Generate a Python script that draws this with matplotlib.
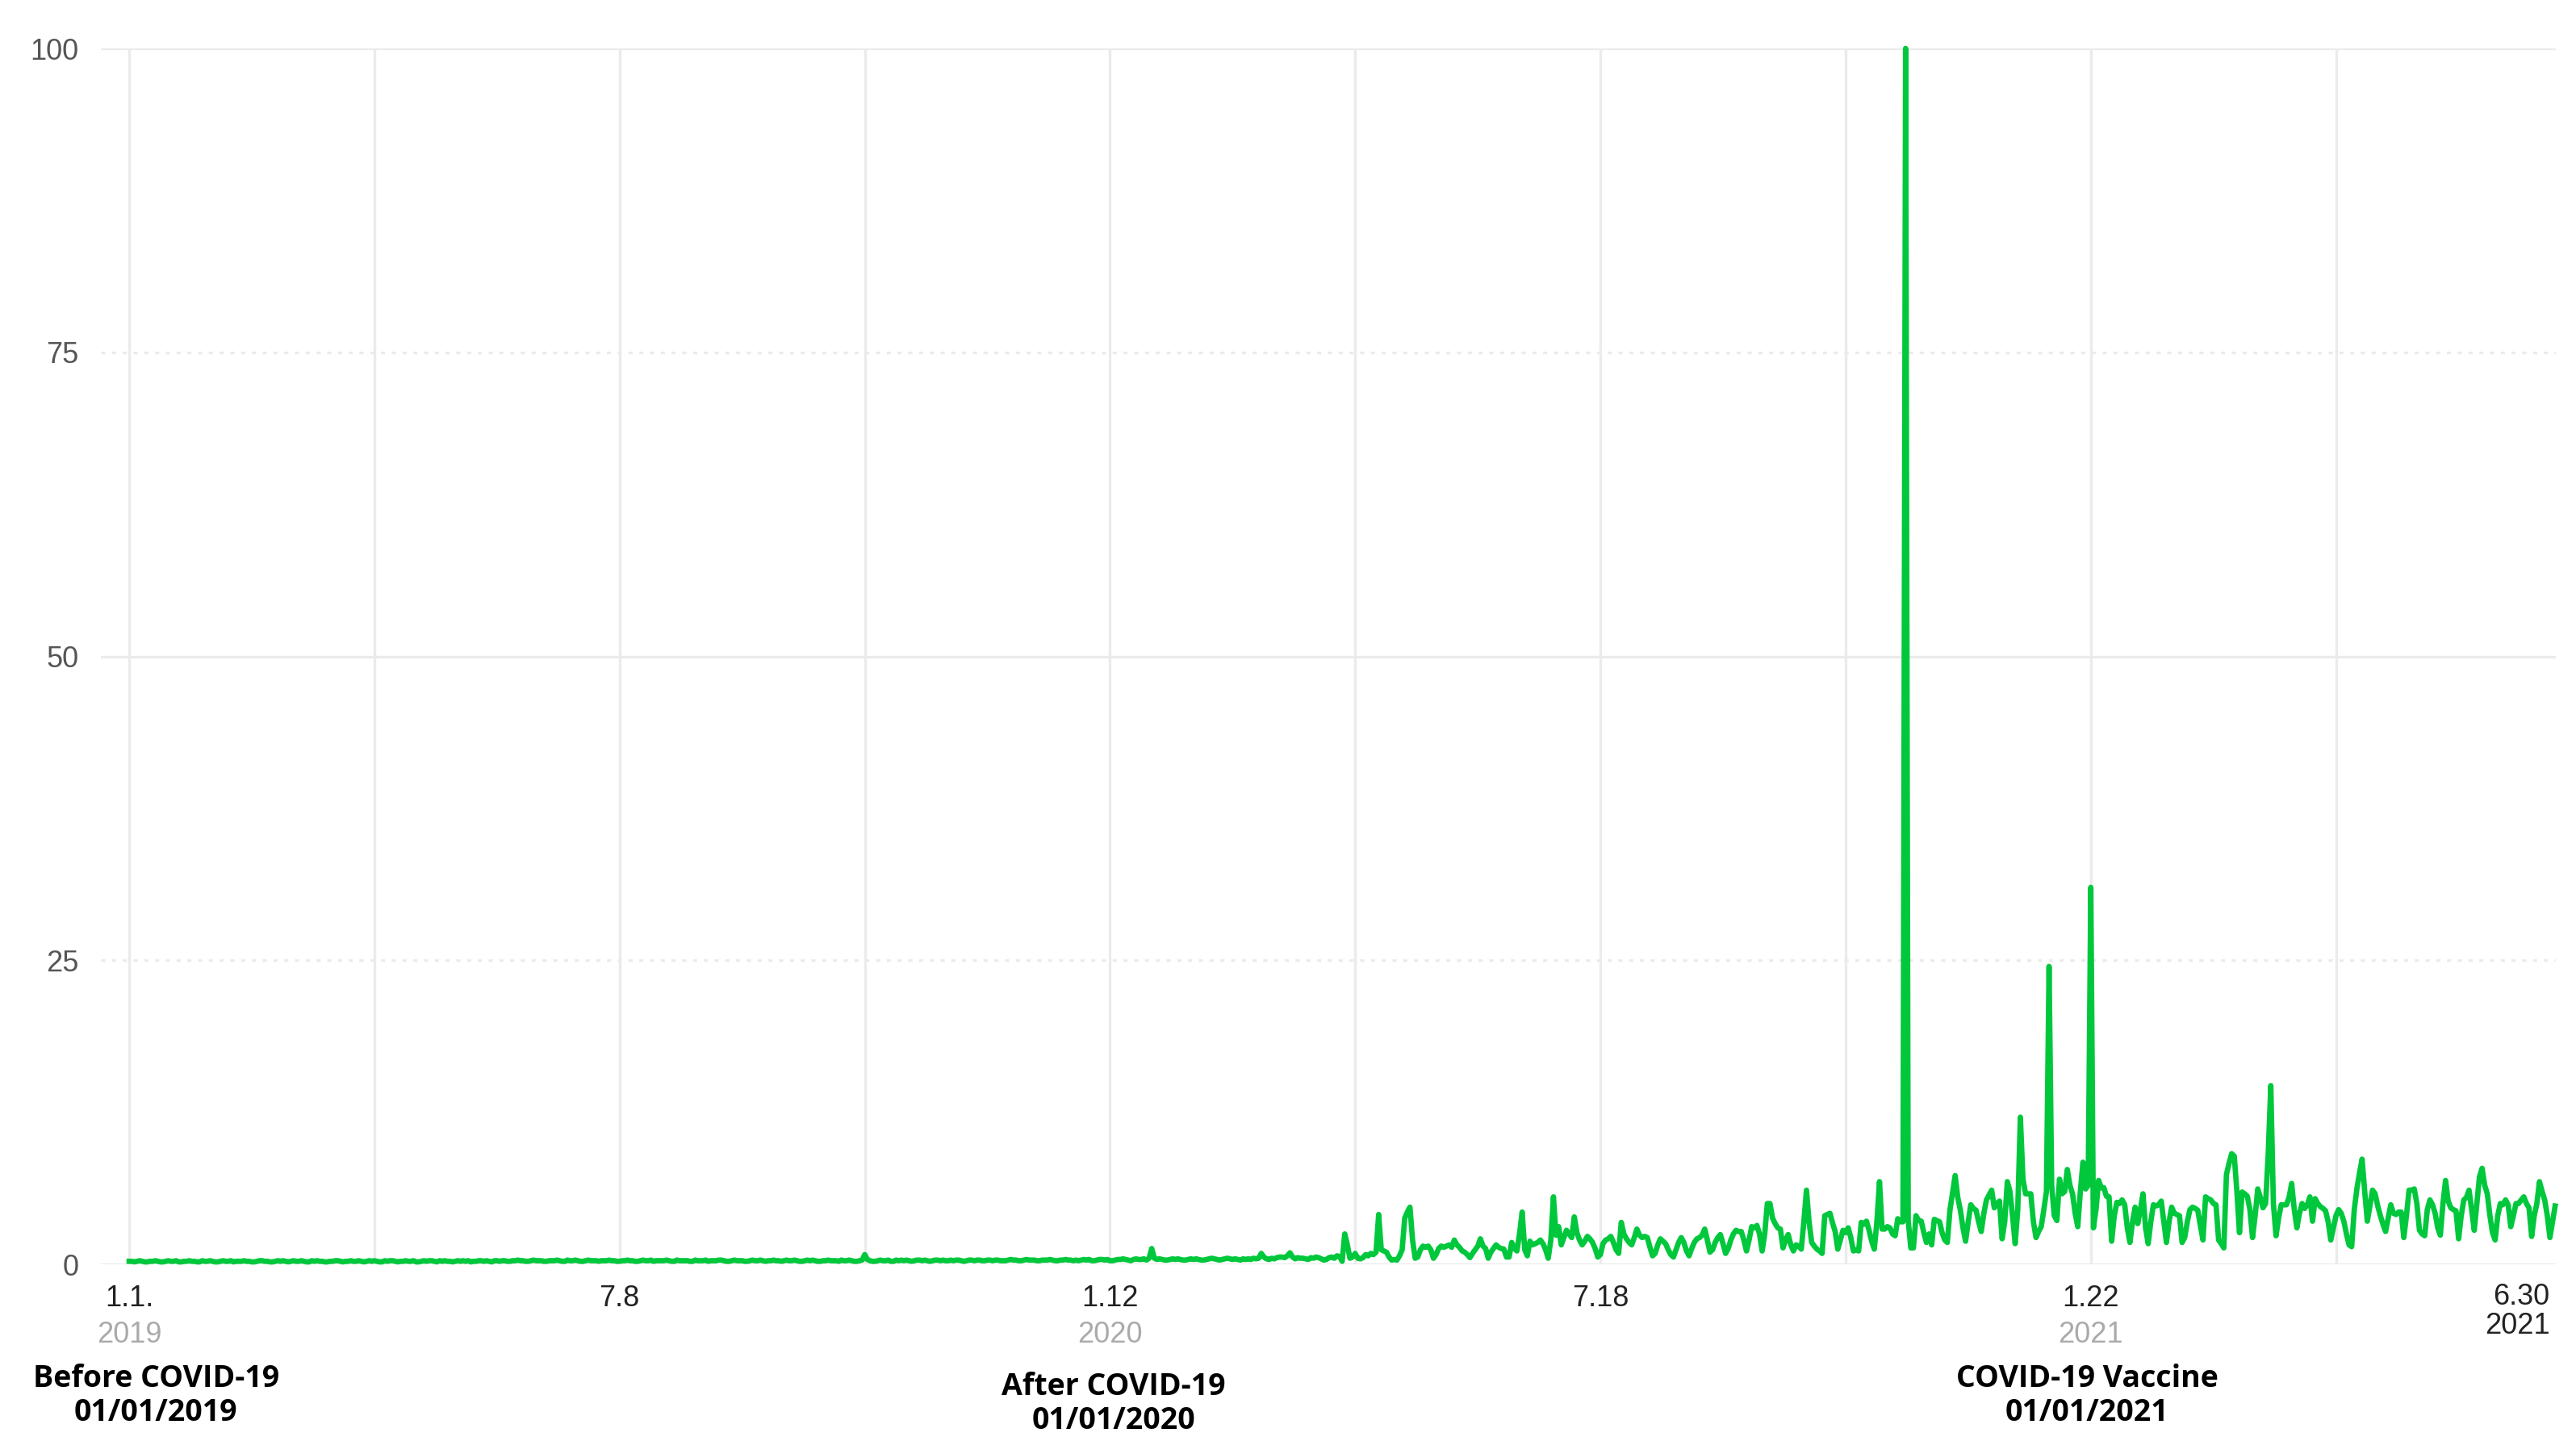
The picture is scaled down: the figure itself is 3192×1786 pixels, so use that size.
import numpy as np
import matplotlib.pyplot as plt

# daily relative search volume, starting 1 Jan 2019 (flat period up to spring 2020)
flat_values = [
    0.25, 0.25, 0.2, 0.25, 0.3, 0.25, 0.2, 0.2, 0.25, 0.25, 0.3, 0.25, 0.2, 0.2,
    0.25, 0.3, 0.25, 0.25, 0.3, 0.2, 0.2, 0.25, 0.25, 0.3, 0.25, 0.25, 0.2, 0.2,
    0.3, 0.25, 0.25, 0.3, 0.25, 0.2, 0.2, 0.25, 0.3, 0.25, 0.25, 0.3, 0.2, 0.25,
    0.25, 0.25, 0.3, 0.25, 0.25, 0.2, 0.2, 0.25, 0.3, 0.3, 0.25, 0.25, 0.2, 0.2,
    0.25, 0.3, 0.25, 0.3, 0.25, 0.2, 0.25, 0.3, 0.25, 0.25, 0.3, 0.25, 0.2, 0.2,
    0.3, 0.25, 0.3, 0.25, 0.25, 0.2, 0.2, 0.25, 0.25, 0.3, 0.3, 0.25, 0.2, 0.25,
    0.25, 0.3, 0.25, 0.25, 0.3, 0.25, 0.2, 0.25, 0.3, 0.25, 0.3, 0.25, 0.2, 0.2,
    0.3, 0.25, 0.3, 0.3, 0.25, 0.2, 0.25, 0.25, 0.3, 0.25, 0.25, 0.3, 0.2, 0.2,
    0.25, 0.3, 0.25, 0.3, 0.3, 0.25, 0.2, 0.3, 0.25, 0.3, 0.25, 0.25, 0.2, 0.25,
    0.3, 0.25, 0.3, 0.25, 0.3, 0.2, 0.25, 0.25, 0.3, 0.3, 0.25, 0.3, 0.25, 0.2,
    0.3, 0.3, 0.25, 0.3, 0.3, 0.25, 0.25, 0.3, 0.3, 0.35, 0.3, 0.3, 0.25, 0.25,
    0.3, 0.35, 0.3, 0.3, 0.3, 0.25, 0.25, 0.3, 0.3, 0.3, 0.35, 0.3, 0.25, 0.25,
    0.35, 0.3, 0.3, 0.35, 0.3, 0.25, 0.25, 0.3, 0.35, 0.3, 0.3, 0.3, 0.25, 0.3,
    0.3, 0.3, 0.35, 0.3, 0.3, 0.25, 0.25, 0.3, 0.3, 0.35, 0.3, 0.3, 0.25, 0.25,
    0.3, 0.35, 0.3, 0.3, 0.35, 0.25, 0.3, 0.3, 0.3, 0.3, 0.35, 0.3, 0.25, 0.25,
    0.35, 0.3, 0.3, 0.3, 0.3, 0.25, 0.25, 0.35, 0.3, 0.3, 0.3, 0.35, 0.25, 0.3,
    0.3, 0.3, 0.35, 0.35, 0.3, 0.25, 0.25, 0.3, 0.35, 0.3, 0.3, 0.3, 0.25, 0.25,
    0.3, 0.35, 0.3, 0.3, 0.35, 0.3, 0.25, 0.3, 0.3, 0.35, 0.3, 0.3, 0.25, 0.3,
    0.35, 0.3, 0.3, 0.35, 0.3, 0.25, 0.25, 0.3, 0.35, 0.3, 0.35, 0.3, 0.25, 0.25,
    0.3, 0.3, 0.35, 0.3, 0.3, 0.3, 0.25, 0.35, 0.3, 0.3, 0.35, 0.3, 0.25, 0.25,
    0.3, 0.35, 0.8, 0.4, 0.3, 0.25, 0.25, 0.3, 0.35, 0.3, 0.3, 0.35, 0.25, 0.25,
    0.35, 0.3, 0.35, 0.3, 0.35, 0.3, 0.25, 0.3, 0.35, 0.35, 0.3, 0.35, 0.3, 0.25,
    0.3, 0.35, 0.35, 0.3, 0.35, 0.3, 0.3, 0.35, 0.3, 0.35, 0.35, 0.3, 0.25, 0.3,
    0.35, 0.35, 0.3, 0.35, 0.35, 0.3, 0.3, 0.35, 0.35, 0.3, 0.35, 0.35, 0.3, 0.3,
    0.3, 0.35, 0.4, 0.35, 0.35, 0.3, 0.3, 0.35, 0.4, 0.35, 0.35, 0.35, 0.3, 0.3,
    0.35, 0.35, 0.35, 0.4, 0.35, 0.3, 0.3, 0.35, 0.35, 0.4, 0.35, 0.35, 0.3, 0.35,
    0.3, 0.35, 0.4, 0.35, 0.4, 0.3, 0.3, 0.35, 0.4, 0.4, 0.35, 0.4, 0.3, 0.3,
    0.35, 0.4, 0.4, 0.45, 0.4, 0.35, 0.3, 0.4, 0.45, 0.4, 0.4, 0.45, 0.35, 0.5,
    1.3, 0.5, 0.4, 0.45, 0.4, 0.35, 0.35, 0.4, 0.45, 0.4, 0.45, 0.4, 0.35, 0.35,
    0.4, 0.45, 0.4, 0.45, 0.4, 0.35, 0.35, 0.4, 0.45, 0.5, 0.45, 0.4, 0.35, 0.4,
    0.45, 0.5, 0.45, 0.4, 0.45, 0.4, 0.35,
]

# daily values from day 427 (early March 2020) to the end of the series
covid_values = [
    0.45, 0.4, 0.45, 0.4, 0.5, 0.45, 0.5, 0.9, 0.6, 0.45,
    0.4, 0.5, 0.45, 0.55, 0.6, 0.6, 0.55, 0.7, 0.95, 0.6,
    0.45, 0.55, 0.5, 0.5, 0.45, 0.4, 0.55, 0.5, 0.6, 0.55,
    0.45, 0.35, 0.4, 0.55, 0.6, 0.5, 0.7, 0.65, 0.25, 2.5,
    1.6, 0.5, 0.6, 0.9, 0.5, 0.45, 0.55, 0.8, 0.7, 0.9,
    0.8, 1.0, 4.1, 1.2, 1.1, 1.0, 0.6, 0.35, 0.4, 0.35,
    0.7, 1.2, 3.8, 4.3, 4.7, 2.0, 0.5, 0.6, 1.2, 1.5,
    1.4, 1.5, 1.2, 0.5, 0.8, 1.3, 1.5, 1.4, 1.5, 1.6,
    1.4, 2.0, 1.6, 1.4, 1.1, 1.0, 0.8, 0.55, 0.9, 1.2,
    1.5, 2.1, 1.5, 1.3, 0.5, 1.0, 1.3, 1.6, 1.4, 1.3,
    1.25, 0.6, 0.6, 1.8, 1.3, 1.1, 2.5, 4.3, 1.2, 0.7,
    1.9, 1.6, 1.7, 1.8, 2.0, 1.7, 1.2, 0.5, 2.0, 5.55,
    2.4, 3.1, 1.6, 2.2, 2.8, 2.5, 2.2, 3.9, 2.6, 2.0,
    1.6, 1.9, 2.3, 2.1, 1.8, 1.3, 0.6, 0.8, 1.7, 2.0,
    2.1, 2.3, 1.8, 1.2, 0.9, 3.45, 2.5, 2.1, 1.8, 1.6,
    2.2, 2.9, 2.4, 2.2, 2.3, 2.2, 1.4, 0.7, 0.9, 1.6,
    2.1, 1.9, 1.7, 1.2, 0.8, 0.6, 1.2, 1.8, 2.2, 1.8,
    1.1, 0.7, 1.3, 1.8, 2.1, 2.2, 2.4, 2.9, 2.0, 1.0,
    1.2, 1.8, 2.2, 2.45, 1.7, 0.9, 1.3, 2.0, 2.5, 2.8,
    2.7, 2.7, 2.0, 1.1, 2.0, 3.1, 3.0, 3.2, 2.5, 1.1,
    2.5, 5.0, 5.0, 3.8, 3.35, 3.0, 2.9, 1.35, 2.0, 2.45,
    1.6, 1.1, 1.6, 1.5, 1.25, 3.5, 6.1, 3.5, 1.8, 1.5,
    1.25, 1.1, 0.9, 4.0, 4.1, 4.2, 3.4, 2.7, 1.25, 2.0,
    2.8, 2.6, 3.0, 2.2, 1.1, 1.2, 1.1, 3.45, 3.3, 3.55,
    2.8, 1.9, 1.25, 3.5, 6.8, 2.9, 2.9, 3.1, 3.0, 2.5,
    2.35, 3.75, 3.5, 3.5, 100.0, 3.6, 1.35, 1.35, 4.0, 3.6,
    3.55, 2.6, 1.8, 2.5, 1.6, 3.7, 3.6, 3.5, 2.6, 2.0,
    1.8, 4.45, 5.9, 7.3, 5.5, 4.45, 3.0, 1.9, 3.5, 4.9,
    4.6, 4.45, 3.5, 2.7, 4.2, 5.3, 5.7, 6.1, 4.65, 5.0,
    5.2, 2.1, 3.5, 6.8, 6.0, 4.0, 1.7, 4.5, 12.1, 7.0,
    5.8, 5.8, 5.8, 3.5, 2.2, 2.7, 3.1, 4.5, 6.0, 24.5,
    6.5, 4.0, 3.6, 7.0, 5.8, 6.0, 7.8, 6.5, 5.8, 4.2,
    3.1, 6.0, 8.4, 6.2, 6.5, 31.0, 3.0, 4.5, 6.9, 6.3,
    6.3, 5.6, 5.55, 1.9, 4.0, 5.1, 5.0, 5.3, 4.9, 3.0,
    1.8, 3.5, 4.7, 3.35, 4.5, 5.8, 3.0, 1.7, 3.5, 4.9,
    4.8, 4.9, 5.2, 3.5, 1.8, 3.5, 4.7, 4.2, 4.1, 4.0,
    1.8, 2.2, 3.5, 4.5, 4.7, 4.6, 4.45, 3.2, 2.0, 5.55,
    5.4, 5.3, 5.0, 4.9, 2.0, 1.7, 1.35, 7.4, 8.3, 9.1,
    8.9, 6.0, 2.6, 5.95, 5.8, 5.6, 4.5, 2.2, 4.0, 6.2,
    5.5, 4.65, 5.0, 9.0, 14.7, 5.0, 2.35, 3.8, 4.9, 4.9,
    4.9, 5.5, 6.65, 4.5, 3.0, 4.2, 5.0, 4.6, 4.9, 5.55,
    3.55, 5.4, 5.0, 4.75, 4.6, 4.4, 3.5, 2.0, 3.0, 4.0,
    4.5, 4.2, 3.55, 2.5, 1.6, 1.45, 4.5, 6.2, 7.5, 8.65,
    6.0, 3.55, 4.8, 6.1, 5.8, 4.8, 4.0, 3.3, 2.7, 3.8,
    4.9, 4.2, 4.1, 4.3, 4.3, 2.2, 4.0, 6.1, 6.1, 6.2,
    5.0, 2.8, 2.5, 2.35, 4.5, 5.3, 4.9, 4.2, 3.0, 2.4,
    5.0, 6.9, 5.2, 4.65, 4.5, 4.4, 2.1, 4.0, 5.3, 5.5,
    6.1, 4.5, 2.8, 5.0, 7.2, 7.9, 6.5, 5.8, 4.0, 2.6,
    2.0, 4.0, 5.0, 4.9, 5.3, 4.9, 3.1, 4.0, 5.0, 5.0,
    5.3, 5.55, 5.0, 4.65, 2.3, 4.0, 5.0, 6.8, 6.0, 5.3,
    4.0, 2.2, 3.5, 4.8,
]

tick_labels = ["1.1.", "7.8", "1.12", "7.18", "1.22"]
tick_years = ["2019", "", "2020", "", "2021"]
end_label = "6.30\n2021"
y_ticks = [0, 25, 50, 75, 100]
notes = ["Before COVID-19\n01/01/2019",
         "After COVID-19\n01/01/2020",
         "COVID-19 Vaccine\n01/01/2021"]

values = np.array(flat_values + covid_values)
days = np.arange(len(values))

narrow = ["Liberation Sans", "DejaVu Sans"]
grid_color = "#ebebeb"

fig = plt.figure(figsize=(15.96, 8.93), dpi=200)
ax = fig.add_axes([0.0392, 0.1226, 0.953, 0.8438])
ax.set_xlim(-10.8, days[-1] + 0.3)
ax.set_ylim(0, 100)
for s in ax.spines.values():
    s.set_visible(False)

# grid: solid at 0/50/100, dotted at 25/75, vertical line every 94 days
for y in y_ticks:
    ls = (0, (1.5, 2.5)) if y in (25, 75) else "-"
    ax.axhline(y, color=grid_color, lw=1.2, ls=ls, zorder=0)
for d in range(0, len(values), 94):
    ax.axvline(d, color=grid_color, lw=1.2, zorder=0)

ax.plot(days, values, color="#00c73c", lw=2.4, clip_on=False, zorder=3)

ax.set_yticks(y_ticks)
ax.set_yticklabels([str(y) for y in y_ticks], family=narrow, fontsize=13,
                   color="#555555")
tick_pos = np.arange(len(tick_labels)) * 188
ax.set_xticks(tick_pos)
ax.set_xticklabels(tick_labels, family=narrow, fontsize=13, color="#222222")
ax.tick_params(axis="both", length=0)
ax.tick_params(axis="y", pad=10)
ax.tick_params(axis="x", pad=9)

trans = ax.get_xaxis_transform()
for d, yr in zip(tick_pos, tick_years):
    if yr:
        ax.text(d, -0.058, yr, transform=trans, ha="center", va="center",
                family=narrow, fontsize=13, color="#aaaaaa")
ax.text(days[-1] - 2, -0.015, end_label, transform=trans, ha="right",
        va="top", family=narrow, fontsize=13, color="#222222",
        linespacing=1.05)

note_pos = [(0.0605, 0.0314), (0.4323, 0.0258), (0.8102, 0.0314)]
for (nx, ny), txt in zip(note_pos, notes):
    fig.text(nx, ny, txt, ha="center", va="center", fontsize=13.5,
             fontweight="bold", family=["Open Sans", "DejaVu Sans"],
             color="black", linespacing=1.15)

fig.savefig("out.png", dpi=200, facecolor="white")
